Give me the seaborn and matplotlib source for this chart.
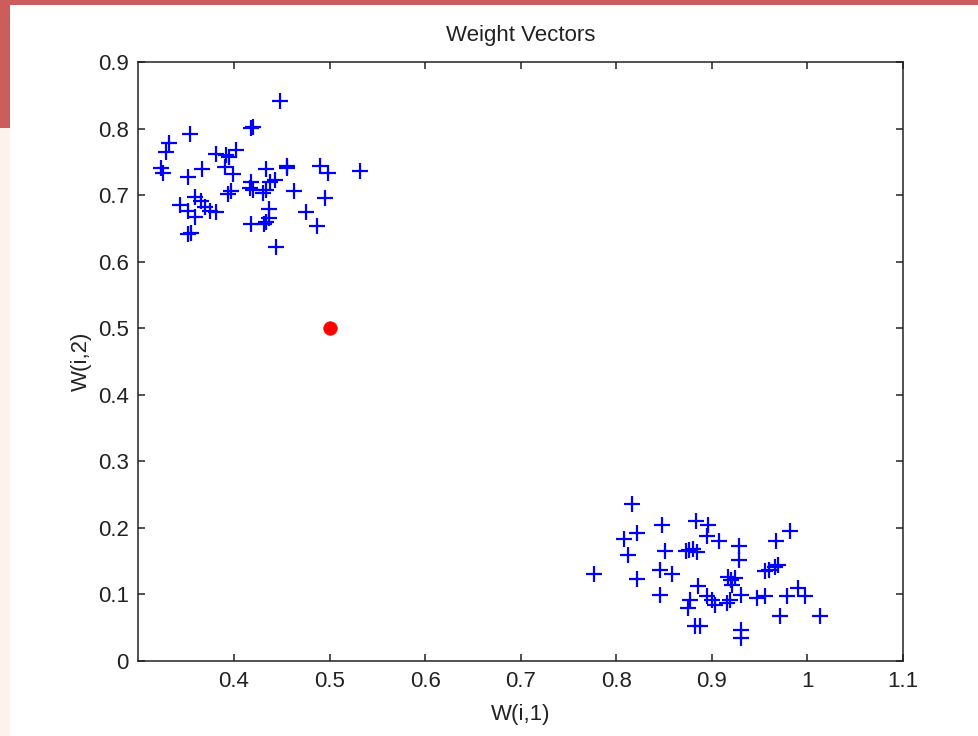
import matplotlib
matplotlib.use("Agg")
import matplotlib.pyplot as plt
from matplotlib.patches import Rectangle
import seaborn as sns

# weight vectors, cluster near (0.4, 0.7)
w1_left = [0.4485, 0.4181, 0.4199, 0.3543, 0.3320, 0.3286, 0.3815, 0.3920, 0.3948, 0.4018,
           0.3240, 0.3257, 0.3519, 0.3669, 0.3909, 0.3990, 0.4332, 0.4555, 0.4555, 0.4897,
           0.4984, 0.5322, 0.4181, 0.3972, 0.3938, 0.4165, 0.4199, 0.4304, 0.4338, 0.4374,
           0.4426, 0.4628, 0.4956, 0.3595, 0.3658, 0.3432, 0.3694, 0.3746, 0.3815, 0.3519,
           0.3589, 0.4367, 0.4367, 0.4757, 0.4181, 0.4314, 0.4338, 0.4868, 0.3519, 0.3554,
           0.4443]
w2_left = [0.8413, 0.8003, 0.8027, 0.7913, 0.7787, 0.7652, 0.7617, 0.7607, 0.7572, 0.7677,
           0.7402, 0.7336, 0.7276, 0.7387, 0.7417, 0.7317, 0.7387, 0.7437, 0.7402, 0.7437,
           0.7327, 0.7362, 0.7201, 0.7061, 0.7012, 0.7102, 0.7077, 0.7027, 0.7077, 0.7201,
           0.7226, 0.7061, 0.6961, 0.6967, 0.6916, 0.6851, 0.6826, 0.6765, 0.6750, 0.6761,
           0.6675, 0.6786, 0.6651, 0.6750, 0.6566, 0.6566, 0.6600, 0.6540, 0.6415, 0.6426,
           0.6215]

# weight vectors, cluster near (0.9, 0.13)
w1_right = [0.8162, 0.8476, 0.8214, 0.8084, 0.8126, 0.8510, 0.7770, 0.8458, 0.8214, 0.8458,
            0.8834, 0.8957, 0.8946, 0.9078, 0.9284, 0.9284, 0.8730, 0.8761, 0.8806, 0.8842,
            0.8580, 0.8859, 0.9166, 0.9201, 0.9243, 0.9208, 0.9305, 0.8946, 0.8999, 0.9033,
            0.9156, 0.9190, 0.8772, 0.8748, 0.8824, 0.8876, 0.9305, 0.9305, 0.9818, 0.9672,
            0.9556, 0.9598, 0.9661, 0.9696, 0.9470, 0.9556, 0.9783, 0.9905, 0.9975, 0.9713,
            1.0132]
w2_right = [0.2363, 0.2048, 0.1923, 0.1837, 0.1597, 0.1648, 0.1307, 0.1372, 0.1232, 0.0987,
            0.2108, 0.2048, 0.1873, 0.1807, 0.1723, 0.1522, 0.1648, 0.1672, 0.1683, 0.1638,
            0.1307, 0.1122, 0.1258, 0.1221, 0.1247, 0.1146, 0.0996, 0.0972, 0.0921, 0.0846,
            0.0871, 0.0921, 0.0921, 0.0796, 0.0521, 0.0521, 0.0470, 0.0346, 0.1958, 0.1807,
            0.1348, 0.1372, 0.1408, 0.1438, 0.0947, 0.0972, 0.0972, 0.1097, 0.0972, 0.0672,
            0.0672]

# initial weight
w_init = [0.5]
w_init2 = [0.5]

xticks = [0.4, 0.5, 0.6, 0.7, 0.8, 0.9, 1.0, 1.1]
xticklabels = ["0.4", "0.5", "0.6", "0.7", "0.8", "0.9", "1", "1.1"]
yticks = [0, 0.1, 0.2, 0.3, 0.4, 0.5, 0.6, 0.7, 0.8, 0.9]
yticklabels = ["0", "0.1", "0.2", "0.3", "0.4", "0.5", "0.6", "0.7", "0.8", "0.9"]

sns.set_style("ticks")
plt.rcParams["font.family"] = ["Liberation Sans", "DejaVu Sans"]

fig = plt.figure(figsize=(9.79, 7.36), dpi=100)
# slide frame around the figure
fig.patches.append(Rectangle((0, 0), 10 / 979, 1, transform=fig.transFigure,
                             facecolor="#fdf3ee", edgecolor="none", zorder=0))
fig.patches.append(Rectangle((0, 1 - 128 / 736), 10 / 979, 128 / 736, transform=fig.transFigure,
                             facecolor="#cd5c5c", edgecolor="none", zorder=1))
fig.patches.append(Rectangle((0, 1 - 5 / 736), 1, 5 / 736, transform=fig.transFigure,
                             facecolor="#cd5c5c", edgecolor="none", zorder=1))

ax = fig.add_axes([138.4 / 979, 1 - 661 / 736, (903 - 138.4) / 979, (661 - 62) / 736])

sns.scatterplot(x=w1_left + w1_right, y=w2_left + w2_right, marker="+", color="#0000ff",
                s=140, linewidth=1.6, ax=ax, zorder=3)
sns.scatterplot(x=w_init, y=w_init2, marker="o", color="#ff0000", s=95,
                edgecolor="#ff0000", linewidth=0.5, ax=ax, zorder=4)

ax.set_xlim(0.3, 1.1)
ax.set_ylim(0, 0.9)
ax.set_xticks(xticks)
ax.set_xticklabels(xticklabels)
ax.set_yticks(yticks)
ax.set_yticklabels(yticklabels)

for side in ["top", "right", "bottom", "left"]:
    ax.spines[side].set_visible(True)
    ax.spines[side].set_linewidth(1.1)
    ax.spines[side].set_color("#222222")
ax.tick_params(direction="in", top=True, right=True, length=5, width=1.1,
               labelsize=16, colors="#222222", pad=7)

ax.set_title("Weight Vectors", fontsize=16, color="#222222", pad=15)
ax.set_xlabel("W(i,1)", fontsize=16, color="#222222", labelpad=9)
ax.set_ylabel("W(i,2)", fontsize=16, color="#222222", labelpad=4)

fig.savefig("out.png", dpi=100)
